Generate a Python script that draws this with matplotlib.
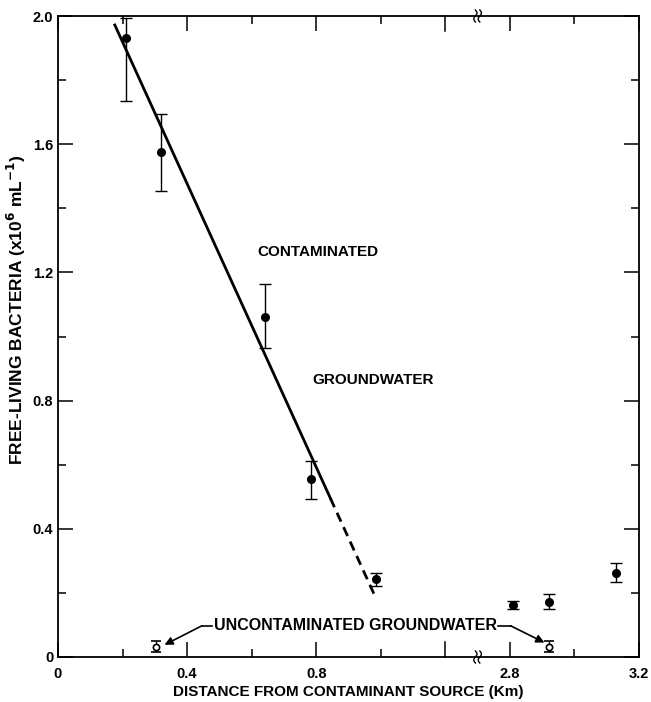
import numpy as np
import matplotlib
matplotlib.use("Agg")
from matplotlib import pyplot as plt

plt.rcParams['font.family'] = ['Liberation Sans', 'DejaVu Sans']
plt.rcParams['font.weight'] = 'bold'
plt.rcParams['axes.labelweight'] = 'bold'
plt.rcParams['mathtext.default'] = 'bf'

# DATA (distance in km, bacteria x10^6 per mL)
contamX = [0.21, 0.32, 0.64, 0.785, 0.985]
contamY = [1.93, 1.575, 1.06, 0.555, 0.243]
contamLo = [1.735, 1.455, 0.965, 0.493, 0.222]
contamHi = [1.995, 1.695, 1.165, 0.611, 0.262]

farX = [2.81, 2.92, 3.13]
farY = [0.162, 0.173, 0.262]
farLo = [0.150, 0.150, 0.234]
farHi = [0.175, 0.197, 0.293]

uncontX = [0.305, 2.92]
uncontY = [0.031, 0.031]
uncontLo = [0.016, 0.016]
uncontHi = [0.050, 0.050]

# regression line: solid part then dashed extension
lineX = [0.176, 0.844]
dashX = [0.844, 0.986]
slope = -2.211
intercept = 1.972 + 2.211 * 0.176

xTickVals = [0, 0.4, 0.8, 2.8, 3.2]
xTickLabels = ['0', '0.4', '0.8', '2.8', '3.2']
yTickVals = [0, 0.4, 0.8, 1.2, 1.6, 2.0]
yTickLabels = ['0', '0.4', '0.8', '1.2', '1.6', '2.0']

# BROKEN AXIS: values beyond the gap are shifted left by 1.4 km
GAP = 1.4
def toAxis(x):
    x = np.asarray(x, dtype=float)
    return np.where(x > 2.0, x - GAP, x)

fig = plt.figure(figsize=(6.51, 7.02), dpi=100)
ax = fig.add_axes([58 / 651, 1 - 657 / 702, 581 / 651, 641 / 702])

def errs(y, lo, hi):
    y = np.array(y)
    return [y - np.array(lo), np.array(hi) - y]

ax.errorbar(toAxis(contamX), contamY, yerr=errs(contamY, contamLo, contamHi),
            fmt='o', color='black', ms=5.5, elinewidth=1, capsize=4, capthick=1)
ax.errorbar(toAxis(farX), farY, yerr=errs(farY, farLo, farHi),
            fmt='o', color='black', ms=5.5, elinewidth=1, capsize=4, capthick=1)
ax.errorbar(toAxis(uncontX), uncontY, yerr=errs(uncontY, uncontLo, uncontHi),
            fmt='o', color='black', mfc='white', mew=1.2, ms=4.5,
            elinewidth=1, capsize=3.5, capthick=1)

lx = np.array(lineX)
dx = np.array(dashX)
ax.plot(lx, intercept + slope * lx, color='black', lw=2)
ax.plot(dx, intercept + slope * dx, color='black', lw=2, dashes=(3.5, 2.2))

# axes set-up
ax.set_xlim(0, 1.8)
ax.set_ylim(0, 2.0)
for s in ax.spines.values():
    s.set_linewidth(1.3)

ax.set_xticks(toAxis(xTickVals))
ax.set_xticklabels(xTickLabels, fontweight='bold')
ax.set_xticks(toAxis([0.2, 0.6, 1.0, 3.0]), minor=True)
ax.set_yticks(yTickVals)
ax.set_yticklabels(yTickLabels, fontweight='bold')
ax.set_yticks([0.2, 0.6, 1.0, 1.4, 1.8], minor=True)
ax.tick_params(which='both', direction='in', top=True, right=True, width=1.1,
               labelsize=10.5)
ax.tick_params(axis='x', pad=7)
ax.tick_params(axis='y', pad=3.5)
ax.tick_params(which='major', length=11)
ax.tick_params(which='minor', length=6)

# extra long tick at 1.2 km without label
for yy, sgn in [(0, 1), (1, -1)]:
    ax.plot([1.2, 1.2], [yy, yy + sgn * 15 / 641], transform=ax.get_xaxis_transform(),
            color='black', lw=1.1, clip_on=False)

# break marks on the x axis
bx = 1.3 / 1.8
t = np.linspace(-1, 1, 30)
for yy in [0, 1]:
    for off in [-2.2, 2.2]:
        xs = bx + (off + 1.6 * np.sin(t * np.pi)) / 581
        ys = yy + t * 6 / 641
        ax.plot(xs, ys, transform=ax.transAxes, color='black', lw=1, clip_on=False)

ax.set_xlabel('DISTANCE FROM CONTAMINANT SOURCE (Km)', fontsize=11, fontweight='bold',
              labelpad=3)
fig.text(16 / 651, 1 - 310 / 702, 'FREE-LIVING BACTERIA (x10$^6$ mL$^{-1}$)',
         rotation=90, ha='center', va='center', fontsize=12.5, fontweight='bold')

ax.text(0.804, 1.264, 'CONTAMINATED', ha='center', va='center', fontsize=11)
ax.text(0.975, 0.864, 'GROUNDWATER', ha='center', va='center', fontsize=11)

ax.text(0.921, 0.097, 'UNCONTAMINATED GROUNDWATER', ha='center', va='center',
        fontsize=11.5)
ax.plot([0.445, 0.478], [0.097, 0.097], color='black', lw=1.2)
ax.plot([1.364, 1.403], [0.097, 0.097], color='black', lw=1.2)
ax.annotate('', xy=(0.33, 0.038), xytext=(0.445, 0.097),
            arrowprops=dict(arrowstyle='-|>', color='black', lw=1.2, mutation_scale=12,
                            shrinkA=0, shrinkB=0))
ax.annotate('', xy=(1.507, 0.045), xytext=(1.403, 0.097),
            arrowprops=dict(arrowstyle='-|>', color='black', lw=1.2, mutation_scale=12,
                            shrinkA=0, shrinkB=0))

fig.savefig('out.png', dpi=100)
